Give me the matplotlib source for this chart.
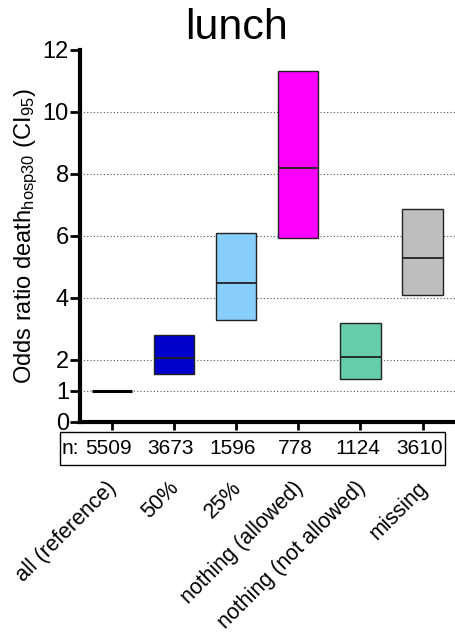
import numpy as np
import matplotlib
matplotlib.use('Agg')
import matplotlib.pyplot as plt
import matplotlib.transforms as mtransforms
from matplotlib.patches import Rectangle

plt.rcParams['font.family'] = ['Liberation Sans', 'DejaVu Sans']
plt.rcParams['mathtext.fontset'] = 'custom'
plt.rcParams['mathtext.rm'] = 'Liberation Sans'
plt.rcParams['mathtext.it'] = 'Liberation Sans:italic'

# odds ratios with 95% CI per lunch category
groups = ['all (reference)', '50%', '25%', 'nothing (allowed)', 'nothing (not allowed)', 'missing']
n_obs = [5509, 3673, 1596, 778, 1124, 3610]
or_mid = [1.0, 2.05, 4.48, 8.19, 2.09, 5.29]
ci_low = [1.0, 1.53, 3.28, 5.94, 1.38, 4.08]
ci_high = [1.0, 2.79, 6.10, 11.32, 3.17, 6.86]
colors = ['black', '#0000CC', '#87CEFA', '#FF00FF', '#66CDAA', '#BEBEBE']
yticks = [0, 1, 2, 4, 6, 8, 10, 12]
gridlev = [1, 2, 4, 6, 8, 10]

fig = plt.figure(figsize=(4.55, 6.37), dpi=100)
ax = fig.add_axes([80/455, 215.3/637, 375/455, 372/637])

x = np.arange(len(groups))
w = 0.65
for lev in gridlev:
    ax.axhline(lev, color='#555555', lw=0.8, ls=(0, (1, 2)), zorder=1)

for i in x:
    if ci_high[i] > ci_low[i]:
        ax.bar(i, ci_high[i] - ci_low[i], bottom=ci_low[i], width=w, color=colors[i],
               edgecolor='#222222', linewidth=1, zorder=3)
        ax.hlines(or_mid[i], i - w/2, i + w/2, color='#222222', lw=1.3, zorder=4)
    else:
        ax.hlines(or_mid[i], i - w/2, i + w/2, color='black', lw=2.2, zorder=4)

ax.set_xlim(-0.51, 5.52)
ax.set_ylim(0, 12)
ax.set_yticks(yticks)
ax.set_yticklabels([str(t) for t in yticks], fontsize=17)
ax.set_xticks(x)
ax.set_xticklabels([])
ax.tick_params(axis='y', direction='out', length=7, width=2, pad=1)
ax.tick_params(axis='x', direction='out', length=6, width=2)
for s in ['top', 'right']:
    ax.spines[s].set_visible(False)
ax.spines['left'].set_linewidth(3)
ax.spines['bottom'].set_linewidth(3)

ax.set_ylabel(r'Odds ratio death$_{\mathregular{hosp30}}$ (CI$_{\mathregular{95}}$)', fontsize=17, labelpad=2)
fig.text(236/455, 1 - 28/637, 'lunch', fontsize=31, ha='center', va='center')

# n row in a box under the axis
fig.patches.append(Rectangle((60/455, 1 - 465/637), 385/455, 33/637, transform=fig.transFigure,
                             fill=False, edgecolor='black', lw=1))
trans = mtransforms.blended_transform_factory(ax.transData, fig.transFigure)
fig.text(62/455, 1 - 449/637, 'n:', fontsize=15, ha='left', va='center')
for i in x:
    ax.text(i - 0.05, 1 - 449/637, str(n_obs[i]), transform=trans,
            fontsize=15, ha='center', va='center')

for i in x:
    ax.text(i + 0.03, 1 - 485/637, groups[i], transform=trans, fontsize=15.5,
            rotation=45, ha='right', va='center', rotation_mode='anchor')

fig.savefig('out.png', dpi=100)
